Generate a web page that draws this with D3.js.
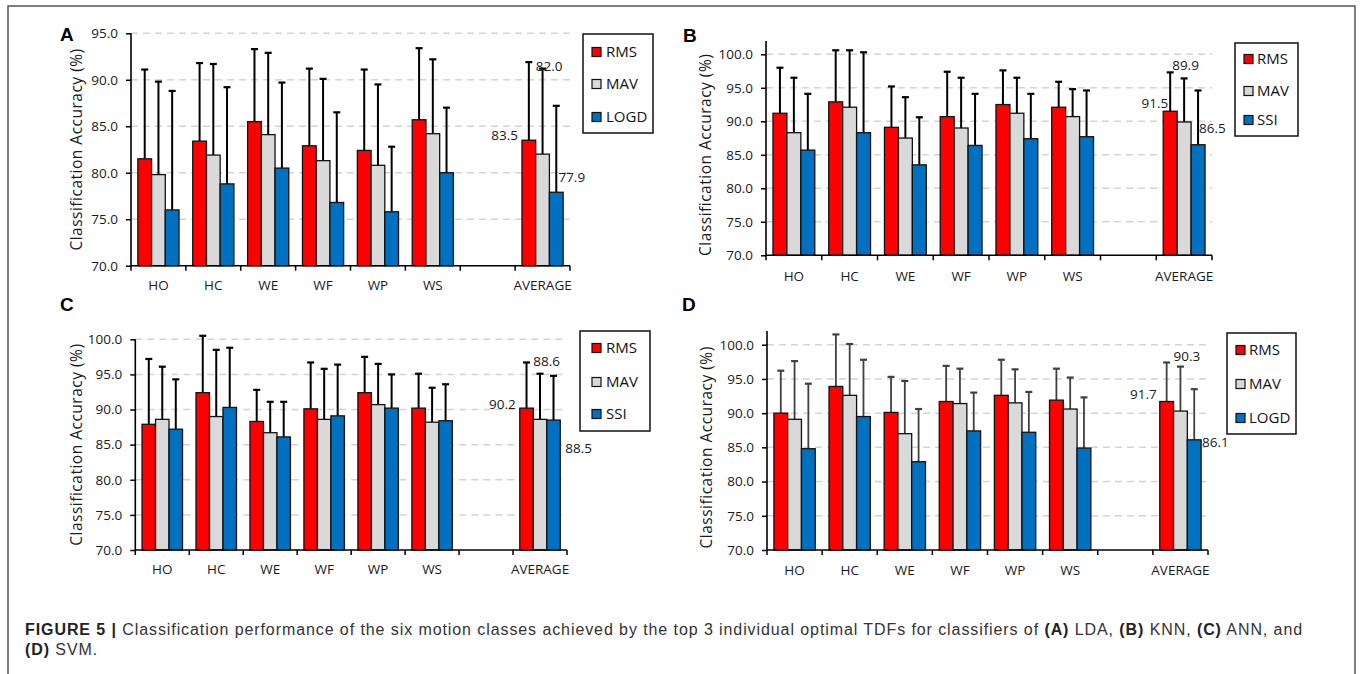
<!DOCTYPE html>
<html>
<head>
<meta charset="utf-8">
<script src="https://cdn.jsdelivr.net/npm/d3@7"></script>
<style>
  html, body { margin: 0; padding: 0; background: #fff; }
  svg { display: block; }
</style>
</head>
<body>
<svg id="fig" width="1360" height="674"></svg>
<script>
// ---------------- DATA ----------------
const categories = ["HO", "HC", "WE", "WF", "WP", "WS", "", "AVERAGE"];
const yTicksA = [70, 75, 80, 85, 90, 95];
const yTicksBCD = [70, 75, 80, 85, 90, 95, 100];

// Panel A: LDA
const seriesA = ["RMS", "MAV", "LOGD"];
const ldaRMS     = [81.5, 83.4, 85.5, 82.9, 82.4, 85.7, null, 83.5];
const ldaRMSsd   = [9.6, 8.4, 7.8, 8.3, 8.7, 7.7, null, 8.4];
const ldaMAV     = [79.8, 81.9, 84.1, 81.3, 80.8, 84.2, null, 82.0];
const ldaMAVsd   = [10.0, 9.8, 8.8, 8.8, 8.7, 8.0, null, 9.2];
const ldaLOGD    = [76.0, 78.8, 80.5, 76.8, 75.8, 80.0, null, 77.9];
const ldaLOGDsd  = [12.8, 10.4, 9.2, 9.7, 7.0, 7.0, null, 9.3];

// Panel B: KNN
const seriesB = ["RMS", "MAV", "SSI"];
const knnRMS     = [91.2, 92.9, 89.1, 90.7, 92.5, 92.1, null, 91.5];
const knnRMSsd   = [6.8, 7.7, 6.1, 6.7, 5.1, 3.8, null, 5.8];
const knnMAV     = [88.3, 92.1, 87.5, 89.0, 91.2, 90.7, null, 89.9];
const knnMAVsd   = [8.2, 8.5, 6.1, 7.5, 5.3, 4.1, null, 6.5];
const knnSSI     = [85.7, 88.3, 83.5, 86.4, 87.4, 87.7, null, 86.5];
const knnSSIsd   = [8.4, 12.0, 7.1, 7.7, 6.7, 6.9, null, 8.1];

// Panel C: ANN
const seriesC = ["RMS", "MAV", "SSI"];
const annRMS     = [87.9, 92.4, 88.3, 90.1, 92.4, 90.2, null, 90.2];
const annRMSsd   = [9.3, 8.1, 4.5, 6.6, 5.1, 4.9, null, 6.5];
const annMAV     = [88.6, 89.0, 86.7, 88.6, 90.7, 88.2, null, 88.6];
const annMAVsd   = [7.5, 9.5, 4.4, 7.2, 5.8, 4.9, null, 6.5];
const annSSI     = [87.2, 90.3, 86.1, 89.1, 90.2, 88.4, null, 88.5];
const annSSIsd   = [7.1, 8.5, 5.0, 7.3, 4.8, 5.2, null, 6.3];

// Panel D: SVM
const seriesD = ["RMS", "MAV", "LOGD"];
const svmRMS     = [90.0, 93.9, 90.1, 91.7, 92.6, 91.9, null, 91.7];
const svmRMSsd   = [6.2, 7.6, 5.2, 5.2, 5.2, 4.6, null, 5.7];
const svmMAV     = [89.1, 92.6, 87.0, 91.4, 91.5, 90.6, null, 90.3];
const svmMAVsd   = [8.5, 7.5, 7.7, 5.1, 4.9, 4.6, null, 6.5];
const svmLOGD    = [84.8, 89.5, 82.9, 87.4, 87.2, 84.9, null, 86.1];
const svmLOGDsd  = [9.5, 8.3, 7.7, 5.6, 5.9, 7.4, null, 7.4];

const captionBold1 = "FIGURE 5 |";
const captionParts1 = [
  [" Classification performance of the six motion classes achieved by the top 3 individual optimal TDFs for classifiers of ", false],
  ["(A)", true], [" LDA, ", false], ["(B)", true], [" KNN, ", false], ["(C)", true], [" ANN, and", false]
];
const captionParts2 = [["(D)", true], [" SVM.", false]];

// ---------------- STYLE / LAYOUT ----------------
const colors = ["#ff0000", "#d9d9d9", "#0070c0"];
const chartFont = "'Open Sans', 'Noto Sans', sans-serif";

const panels = [
  { letter: "A", lx: 60, ly: 41, x0: 131, x1: 570, yBottom: 265.7, yAt: 33.3, atVal: 95, dom: [70, 95], ticks: yTicksA,
    ylabX: 77, catY: 290, series: seriesA,
    means: [ldaRMS, ldaMAV, ldaLOGD], sds: [ldaRMSsd, ldaMAVsd, ldaLOGDsd], errColor: "#000", errW: 2,
    legend: { x: 583, y: 34, w: 70, h: 99, items: [52, 84, 117], sx: 592, tx: 606 },
    labels: [ { ref: "bar", anchor: "end", side: "left", dx: -4, dy: -5 },
              { ref: "err", anchor: "start", side: "left", dx: 0, dy: -2 },
              { ref: "bar", anchor: "start", side: "left", dx: 9, dy: -15 } ] },
  { letter: "B", lx: 683, ly: 42, x0: 766, x1: 1212, yBottom: 255.3, yAt: 54.3, atVal: 100, dom: [70, 102], ticks: yTicksBCD,
    ylabX: 706, catY: 281, series: seriesB,
    means: [knnRMS, knnMAV, knnSSI], sds: [knnRMSsd, knnMAVsd, knnSSIsd], errColor: "#000", errW: 2,
    legend: { x: 1235, y: 43, w: 63, h: 93, items: [59, 91, 120], sx: 1244, tx: 1257 },
    labels: [ { ref: "bar", anchor: "end", side: "left", dx: 5, dy: -8 },
              { ref: "err", anchor: "start", side: "left", dx: -5, dy: -13 },
              { ref: "bar", anchor: "start", side: "left", dx: 8, dy: -16 } ] },
  { letter: "C", lx: 60, ly: 311, x0: 135.3, x1: 567, yBottom: 550, yAt: 339.3, atVal: 100, dom: [70, 100], ticks: yTicksBCD,
    ylabX: 77, catY: 574, series: seriesC,
    means: [annRMS, annMAV, annSSI], sds: [annRMSsd, annMAVsd, annSSIsd], errColor: "#000", errW: 2,
    legend: { x: 580, y: 331, w: 70, h: 100, items: [348, 382, 414], sx: 592, tx: 606 },
    labels: [ { ref: "bar", anchor: "end", side: "left", dx: -4, dy: -4 },
              { ref: "err", anchor: "start", side: "left", dx: 0, dy: -12 },
              { ref: "bar", anchor: "start", side: "right", dx: 5, dy: 28 } ] },
  { letter: "D", lx: 682, ly: 311, x0: 767, x1: 1208, yBottom: 550, yAt: 344.7, atVal: 100, dom: [70, 102], ticks: yTicksBCD,
    ylabX: 707, catY: 575, series: seriesD,
    means: [svmRMS, svmMAV, svmLOGD], sds: [svmRMSsd, svmMAVsd, svmLOGDsd], errColor: "#404040", errW: 1.8,
    legend: { x: 1227, y: 333, w: 69, h: 101, items: [350, 384, 418], sx: 1236, tx: 1249 },
    labels: [ { ref: "bar", anchor: "end", side: "left", dx: -3, dy: -7 },
              { ref: "err", anchor: "start", side: "left", dx: 0, dy: -10 },
              { ref: "bar", anchor: "start", side: "right", dx: 1, dy: 2 } ] }
];

const svg = d3.select("#fig");

// Outer frame
svg.append("path")
  .attr("d", "M8,674 L8,6 L1355,6 L1355,674")
  .attr("fill", "none").attr("stroke", "#555").attr("stroke-width", 1.5);

panels.forEach(p => {
  const g = svg.append("g");
  const pxPerUnit = (p.yBottom - p.yAt) / (p.atVal - p.dom[0]);
  const y = d3.scaleLinear().domain(p.dom)
    .range([p.yBottom, p.yBottom - (p.dom[1] - p.dom[0]) * pxPerUnit]);
  const x = d3.scaleBand().domain(categories).range([p.x0, p.x1]).padding(0);
  const step = x.bandwidth();
  const xs = d3.scaleBand().domain(p.series).range([step * 0.125, step * 0.875]).padding(0);

  // gridlines
  g.selectAll("line.grid").data(p.ticks.filter(t => t > p.dom[0])).join("line")
    .attr("x1", p.x0).attr("x2", p.x1)
    .attr("y1", d => y(d)).attr("y2", d => y(d))
    .attr("stroke", "#d4d4d4").attr("stroke-width", 1.5).attr("stroke-dasharray", "7,5");

  // bars
  p.series.forEach((s, si) => {
    const vals = p.means[si], sds = p.sds[si];
    const rows = categories.map((c, i) => ({ c, v: vals[i], sd: sds[i] })).filter(d => d.v != null);
    const eg = g.append("g");
    eg.selectAll("line.err").data(rows).join("line")
      .attr("x1", d => x(d.c) + xs(s) + xs.bandwidth() / 2)
      .attr("x2", d => x(d.c) + xs(s) + xs.bandwidth() / 2)
      .attr("y1", d => y(d.v)).attr("y2", d => y(d.v + d.sd))
      .attr("stroke", p.errColor).attr("stroke-width", p.errW);
    eg.selectAll("line.cap").data(rows).join("line")
      .attr("x1", d => x(d.c) + xs(s) + xs.bandwidth() / 2 - 3.5)
      .attr("x2", d => x(d.c) + xs(s) + xs.bandwidth() / 2 + 3.5)
      .attr("y1", d => y(d.v + d.sd)).attr("y2", d => y(d.v + d.sd))
      .attr("stroke", p.errColor).attr("stroke-width", 2.2);
    g.selectAll("rect.s" + si).data(rows).join("rect")
      .attr("x", d => x(d.c) + xs(s))
      .attr("width", xs.bandwidth())
      .attr("y", d => y(d.v))
      .attr("height", d => y(p.dom[0]) - y(d.v))
      .attr("fill", colors[si]).attr("stroke", "#111").attr("stroke-width", 1.3);
  });

  // y axis
  const yAxis = d3.axisLeft(y).tickValues(p.ticks).tickSize(5).tickPadding(8).tickFormat(d3.format(".1f"));
  const ya = g.append("g").attr("transform", `translate(${p.x0},0)`).call(yAxis);
  ya.select(".domain").remove();
  ya.selectAll(".tick line").attr("stroke", "#000").attr("stroke-width", 1.5);
  ya.selectAll("text").attr("font-family", chartFont).attr("font-size", 13.5).attr("fill", "#1a1a1a");
  g.append("line").attr("x1", p.x0).attr("x2", p.x0)
    .attr("y1", y(p.dom[1])).attr("y2", y(p.dom[0]))
    .attr("stroke", "#000").attr("stroke-width", 1.6);

  // x axis
  g.append("line").attr("x1", p.x0).attr("x2", p.x1)
    .attr("y1", y(p.dom[0])).attr("y2", y(p.dom[0]))
    .attr("stroke", "#000").attr("stroke-width", 1.6);
  const bounds = categories.map(c => x(c)).concat([p.x1]);
  g.selectAll("line.xt").data(bounds).join("line")
    .attr("x1", d => d).attr("x2", d => d)
    .attr("y1", y(p.dom[0])).attr("y2", y(p.dom[0]) + 5)
    .attr("stroke", "#000").attr("stroke-width", 1.5);
  g.selectAll("text.cat").data(categories).join("text")
    .attr("x", d => x(d) + step / 2).attr("y", p.catY)
    .attr("text-anchor", "middle")
    .attr("font-family", chartFont).attr("font-size", 13.5).attr("fill", "#1a1a1a")
    .text(d => d);

  // y label
  g.append("text")
    .attr("transform", `translate(${p.ylabX},${(y(p.dom[0]) + y(p.atVal)) / 2}) rotate(-90)`)
    .attr("text-anchor", "middle").attr("dy", "0.35em")
    .attr("font-family", chartFont).attr("font-size", 15.5).attr("letter-spacing", 0.5).attr("fill", "#1a1a1a")
    .text("Classification Accuracy (%)");

  // data labels on AVERAGE group
  const avg = "AVERAGE";
  const ai = categories.indexOf(avg);
  p.series.forEach((s, si) => {
    const L = p.labels[si];
    const v = p.means[si][ai], sd = p.sds[si][ai];
    const left = x(avg) + xs(s);
    const bx = L.side === "left" ? left : left + xs.bandwidth();
    const by = L.ref === "bar" ? y(v) : y(v + sd);
    g.append("text")
      .attr("x", bx + L.dx).attr("y", by + L.dy)
      .attr("dy", "0.35em").attr("text-anchor", L.anchor)
      .attr("font-family", chartFont).attr("font-size", 13.5).attr("fill", "#1a1a1a")
      .text(d3.format(".1f")(v));
  });

  // legend
  const lg = p.legend;
  g.append("rect").attr("x", lg.x).attr("y", lg.y).attr("width", lg.w).attr("height", lg.h)
    .attr("fill", "#fff").attr("stroke", "#111").attr("stroke-width", 1.5);
  p.series.forEach((s, si) => {
    g.append("rect").attr("x", lg.sx).attr("y", lg.items[si] - 4.5).attr("width", 9).attr("height", 9)
      .attr("fill", colors[si]).attr("stroke", "#111").attr("stroke-width", 1.2);
    g.append("text").attr("x", lg.tx).attr("y", lg.items[si]).attr("dy", "0.36em")
      .attr("font-family", chartFont).attr("font-size", 15).attr("fill", "#111")
      .text(s);
  });

  // panel letter
  g.append("text").attr("x", p.lx).attr("y", p.ly)
    .attr("font-family", "'Liberation Sans', Arial, sans-serif").attr("font-weight", "bold")
    .attr("font-size", 19).attr("fill", "#000").text(p.letter);
});

// caption
function caption(parts, yPos, spacing) {
  const t = svg.append("text").attr("x", 25).attr("y", yPos)
    .attr("font-family", "'Liberation Sans', Arial, sans-serif").attr("font-size", 16)
    .attr("fill", "#333");
  if (spacing != null) t.attr("letter-spacing", spacing);
  parts.forEach(([txt, b]) => {
    t.append("tspan").attr("font-weight", b ? "bold" : "normal").attr("fill", b ? "#222" : "#333").text(txt);
  });
  return t;
}
const line1Parts = [[captionBold1, true]].concat(captionParts1);
const c1 = caption(line1Parts, 635);
// fit first caption line to the figure width
const natural = c1.node().getComputedTextLength();
const nChars = line1Parts.map(p => p[0]).join("").length;
const targetW = 1303 - 25;
const ls = Math.max(0, (targetW - natural) / nChars);
c1.attr("letter-spacing", ls);
caption(captionParts2, 655, ls);
</script>
</body>
</html>
